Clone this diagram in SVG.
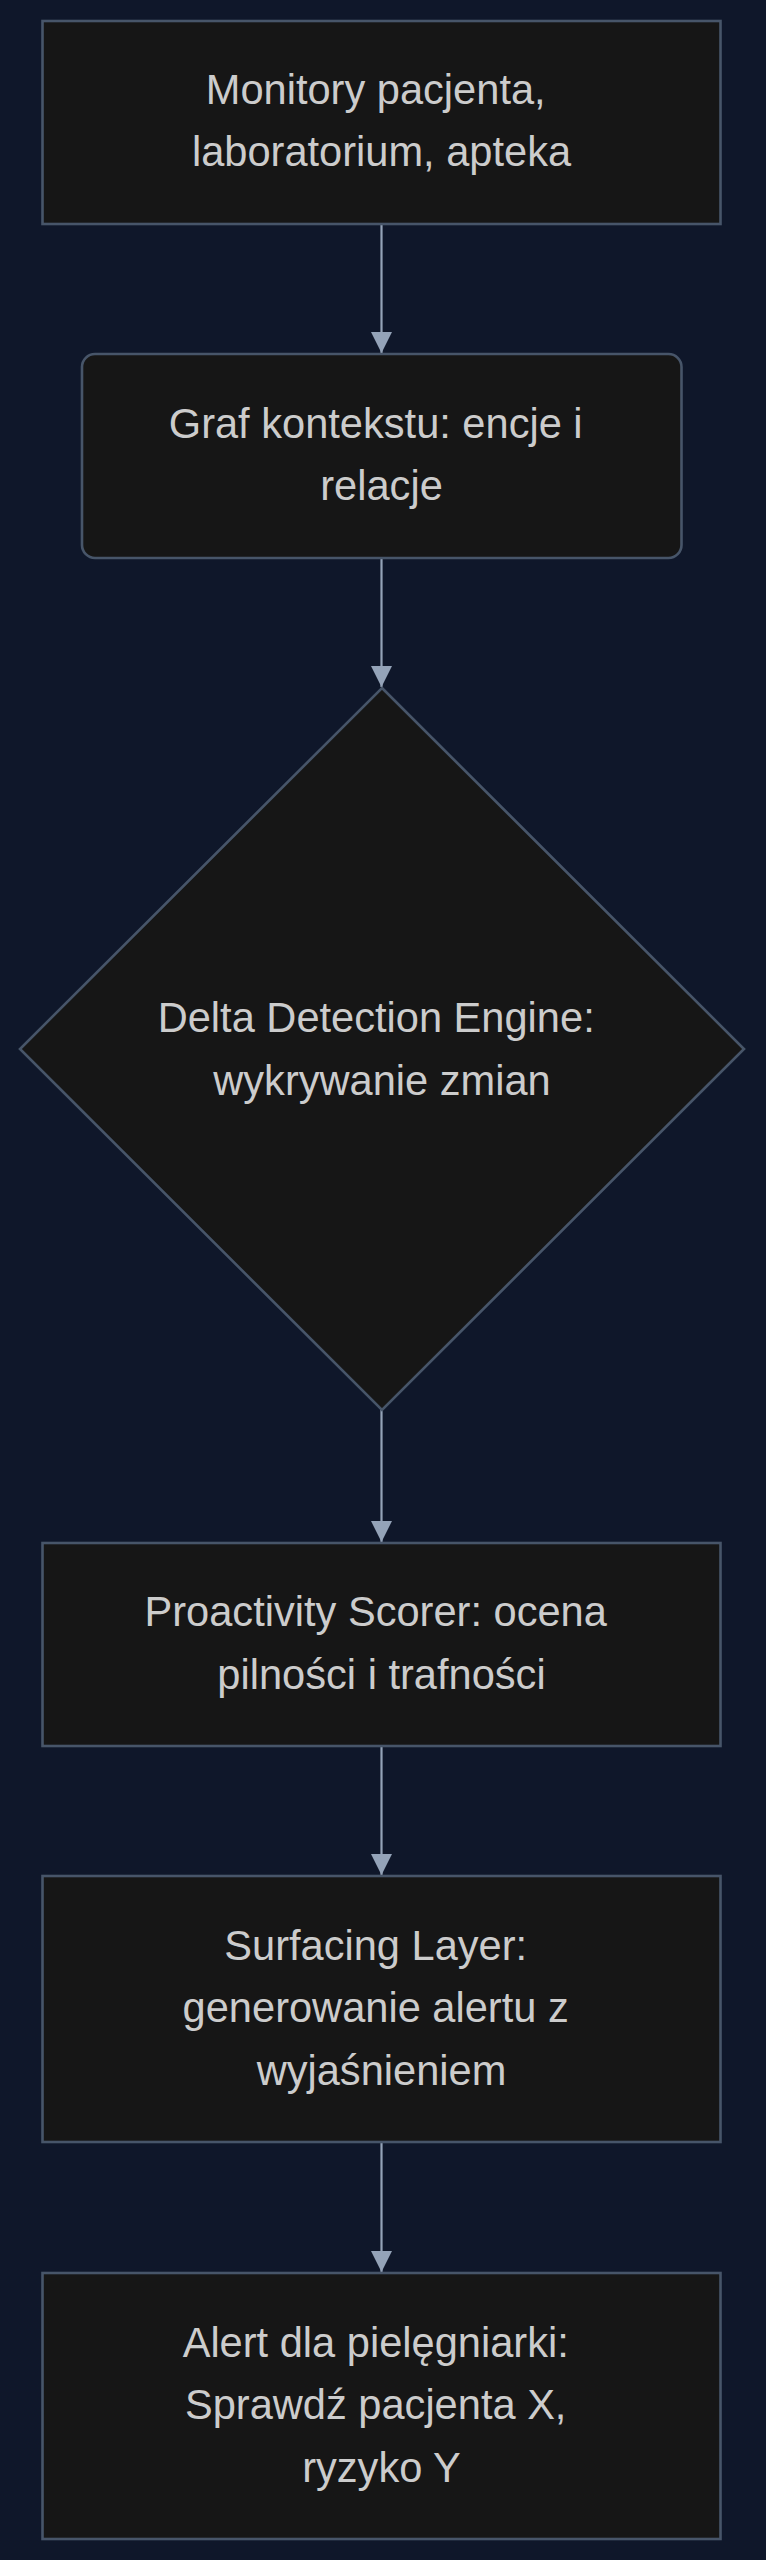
<svg xmlns="http://www.w3.org/2000/svg" width="766" height="2560" viewBox="0 0 766 2560">
  <defs>
    <marker id="arrow" viewBox="0 0 10 10" refX="10" refY="5" markerUnits="userSpaceOnUse" markerWidth="21" markerHeight="21" orient="auto">
      <path d="M0,0 L10,5 L0,10 z" fill="#94a3b8"/>
    </marker>
    <style>
      .node rect, .node polygon { fill: #161616; stroke: #475569; stroke-width: 2.6; }
      .node text { font-family: "Liberation Sans", Arial, sans-serif; font-size: 41.6px; fill: #cccccc; text-anchor: middle; }
      .edges path { fill: none; stroke: #94a3b8; stroke-width: 2.2; marker-end: url(#arrow); }
    </style>
  </defs>

  <rect x="0" y="0" width="766" height="2560" fill="#0f172a"/>

  <g class="edges">
    <path d="M381.5,224 L381.5,353"/>
    <path d="M381.5,558 L381.5,687"/>
    <path d="M381.5,1410 L381.5,1542"/>
    <path d="M381.5,1746 L381.5,1875"/>
    <path d="M381.5,2142 L381.5,2272"/>
  </g>

  <!-- wrapped lines keep their trailing space, so they sit slightly left -->
  <g id="sources" class="node">
    <rect x="42.5" y="21" width="678" height="203"/>
    <text x="375.7" y="103.5">Monitory pacjenta,</text>
    <text x="381.5" y="166">laboratorium, apteka</text>
  </g>

  <g id="context-graph" class="node">
    <rect x="82" y="354" width="599.5" height="204" rx="13" ry="13"/>
    <text x="375.7" y="437.5">Graf kontekstu: encje i</text>
    <text x="381.5" y="500">relacje</text>
  </g>

  <g id="delta-engine" class="node">
    <polygon points="382,688 744,1049 382,1410 20,1049"/>
    <text x="376.2" y="1032">Delta Detection Engine:</text>
    <text x="382" y="1094.5">wykrywanie zmian</text>
  </g>

  <g id="scorer" class="node">
    <rect x="42.5" y="1543" width="678" height="203"/>
    <text x="375.7" y="1626">Proactivity Scorer: ocena</text>
    <text x="381.5" y="1688.5">pilności i trafności</text>
  </g>

  <g id="surfacing" class="node">
    <rect x="42.5" y="1876" width="678" height="266"/>
    <text x="375.7" y="1960">Surfacing Layer:</text>
    <text x="375.7" y="2022.2">generowanie alertu z</text>
    <text x="381.5" y="2084.6">wyjaśnieniem</text>
  </g>

  <g id="nurse-alert" class="node">
    <rect x="42.5" y="2273" width="678" height="266"/>
    <text x="375.7" y="2357">Alert dla pielęgniarki:</text>
    <text x="375.7" y="2419.2">Sprawdź pacjenta X,</text>
    <text x="381.5" y="2481.6">ryzyko Y</text>
  </g>
</svg>
